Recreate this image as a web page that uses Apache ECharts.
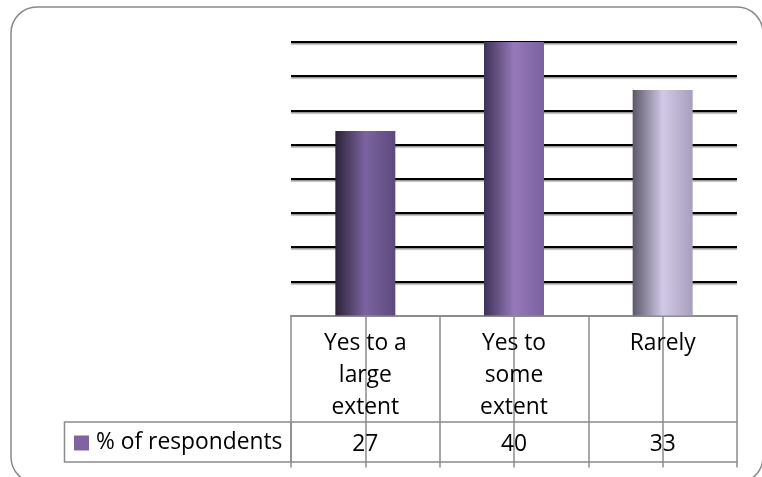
<!DOCTYPE html>
<html>
<head>
<meta charset="utf-8">
<script src="https://cdn.jsdelivr.net/npm/echarts@6/dist/echarts.min.js"></script>
<style>
html,body{margin:0;padding:0;background:#fff;}
#chart{width:762px;height:477px;}
</style>
</head>
<body>
<div id="chart"></div>
<script>
const categories = ['Yes to a\nlarge\nextent', 'Yes to\nsome\nextent', 'Rarely'];
const seriesName = '% of respondents';
const values = [27, 40, 33];
const barGradients = [
  ['#2b2238', '#7c64a0', '#5c4a7c'],
  ['#3e3258', '#9679b9', '#7a62a0'],
  ['#5c5768', '#d1c9e5', '#a89fbc']
];

const FONT = '"Open Sans"';
const FS = 22.8;
const GRAY = '#8c8c8c';
const chart = echarts.init(document.getElementById('chart'), null, {renderer: 'canvas'});

const gridTop = 42, gridBottomY = 315.6;
const rowLine1 = 422, rowLine2 = 462, tableEnd = 467.5;

function grad(c) {
  return new echarts.graphic.LinearGradient(0, 0, 1, 0, [
    {offset: 0, color: c[0]},
    {offset: 0.5, color: c[1]},
    {offset: 1, color: c[2]}
  ]);
}

const baseX = {
  type: 'category', data: categories, gridIndex: 0, position: 'bottom',
  axisLine: {show: false}, axisTick: {show: false}, axisLabel: {show: false},
  splitLine: {show: false}
};

chart.setOption({
  animation: false,
  backgroundColor: '#fff',
  grid: {left: 291, width: 446, top: gridTop, height: gridBottomY - gridTop, containLabel: false},
  legend: {
    data: [seriesName], left: 74, top: 430, padding: 0,
    icon: 'rect', itemWidth: 15, itemHeight: 15,
    itemStyle: {color: '#8064a2'},
    textStyle: {fontFamily: FONT, fontSize: FS, color: '#000', lineHeight: 26, padding: [0, 0, 0, 2]}
  },
  xAxis: [
    Object.assign({}, baseX, {
      axisLine: {show: true, lineStyle: {color: GRAY, width: 2}},
      axisTick: {show: true, alignWithLabel: true, inside: true, length: 6, lineStyle: {color: GRAY, width: 1.5}},
      axisLabel: {show: true, interval: 0, margin: 11.5, fontFamily: FONT, fontSize: FS, lineHeight: 32, color: '#000', align: 'center'}
    }),
    Object.assign({}, baseX, {
      axisTick: {show: true, length: tableEnd - gridBottomY, lineStyle: {color: GRAY, width: 1.5}}
    }),
    Object.assign({}, baseX, {
      axisTick: {show: true, alignWithLabel: true, length: tableEnd - gridBottomY, lineStyle: {color: GRAY, width: 1.5}}
    }),
    Object.assign({}, baseX, {
      data: values.map(String), offset: rowLine1 - gridBottomY,
      axisLine: {show: true, lineStyle: {color: GRAY, width: 1.5}},
      axisLabel: {show: true, interval: 0, margin: 9.5, fontFamily: FONT, fontSize: FS, lineHeight: 26, color: '#000'}
    }),
    Object.assign({}, baseX, {
      offset: rowLine2 - gridBottomY,
      axisLine: {show: true, lineStyle: {color: GRAY, width: 1.5}}
    })
  ],
  yAxis: {
    type: 'value', min: 0, max: 40, interval: 5,
    axisLine: {show: false}, axisTick: {show: false}, axisLabel: {show: false},
    splitLine: {show: true, showMinLine: false, lineStyle: {color: '#000', width: 2.2, shadowColor: 'rgba(0,0,0,0.45)', shadowOffsetY: 1.5, shadowBlur: 1}}
  },
  series: [{
    name: seriesName, type: 'bar', xAxisIndex: 0, barWidth: 60,
    itemStyle: {color: '#8064a2'},
    data: values.map((v, i) => ({value: v, itemStyle: {color: grad(barGradients[i])}})),
    z: 5
  }],
  graphic: [
    {type: 'rect', shape: {x: 11, y: 7, width: 752, height: 476, r: 26}, style: {fill: 'none', stroke: '#8a8a8a', lineWidth: 1.5}, silent: true, z: -1},
    {type: 'rect', shape: {x: 64.5, y: rowLine1, width: 226.5, height: rowLine2 - rowLine1}, style: {fill: 'none', stroke: GRAY, lineWidth: 1.5}, silent: true}
  ]
});
</script>
</body>
</html>
